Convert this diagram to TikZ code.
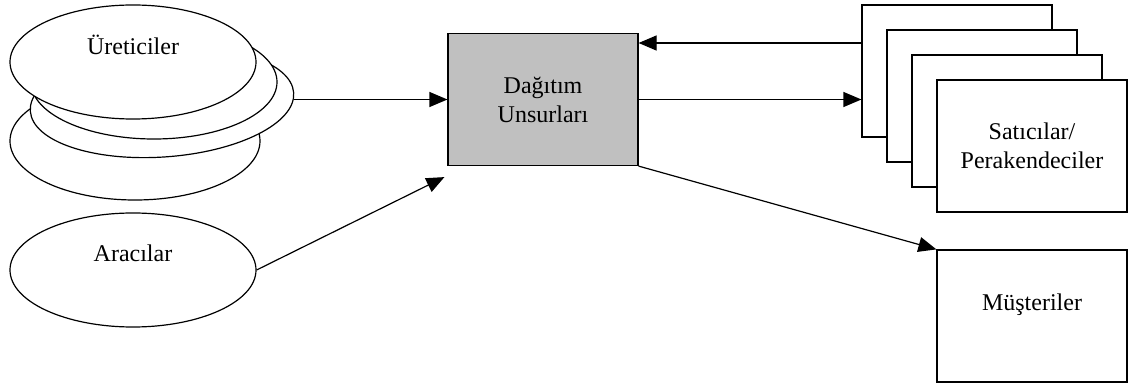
\documentclass[tikz,border=0pt]{standalone}
\usepackage{fontspec}
\setmainfont{Liberation Serif}
\usetikzlibrary{shapes.geometric,arrows.meta,positioning}
\begin{document}
\begin{tikzpicture}[x=1pt,y=-1pt,font=\fontsize{24}{29}\selectfont]
\tikzstyle{block} = [rectangle, draw, fill=white, line width=1.2pt, minimum width=190pt, minimum height=132pt, inner sep=0pt, align=center]
\tikzstyle{oval} = [ellipse, draw, fill=white, line width=1.2pt, minimum width=246pt, minimum height=114pt, inner sep=0pt]
\tikzstyle{arrow} = [line width=1.2pt, -{Triangle[length=18pt,width=15pt]}]

\fill[white] (0,0) rectangle (1128,387);
\useasboundingbox (0,0) rectangle (1128,387);

\node (ureticiler4) [oval, minimum width=250pt, minimum height=118pt] at (135,141) {};
\node (ureticiler3) [oval, minimum width=264pt, minimum height=110pt, rotate=4] at (162,102) {};
\node (ureticiler2) [oval] at (154,82) {};
\node (ureticiler) [oval, label={[yshift=17pt]center:Üreticiler}] at (133,62) {};
\node (aracilar) [oval, label={[yshift=17pt]center:Aracılar}] at (133,270) {};

\node (dagitim) [block, fill={rgb,255:red,192;green,192;blue,192}] at (543,99.5) {Dağıtım\\Unsurları};

\foreach \i in {1,2,3}
  \node (satici\i) [block] at (932+25*\i,46+25*\i) {};
\node (satici4) [block] at (1032,146) {Satıcılar/\\Perakendeciler};
\node (musteriler) [block, label={[yshift=11pt]center:Müşteriler}] at (1032,316) {};

\draw [arrow] (dagitim.west -| ureticiler3.east) -- (dagitim.west);
\draw [arrow] (aracilar.east) -- ([xshift=-3pt,yshift=-11pt]dagitim.south west);
\draw [arrow] ([yshift=28pt]satici1.west) -- ([yshift=28pt]satici1.west -| dagitim.east);
\draw [arrow] (dagitim.east) -- (dagitim.east -| satici1.west);
\draw [arrow] (dagitim.south east) -- (musteriler.north west);
\end{tikzpicture}
\end{document}
